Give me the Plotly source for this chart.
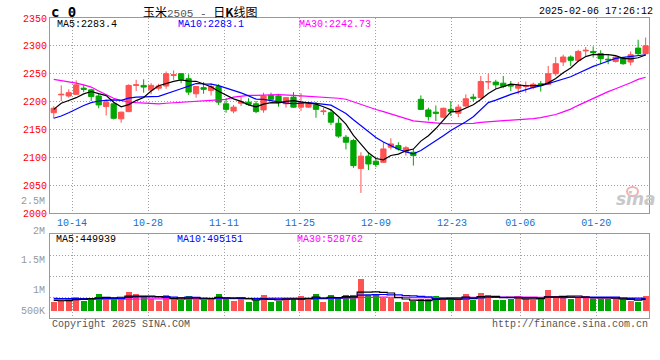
import plotly.graph_objects as go
import pandas as pd

# ---------------- data ----------------
dates = ["10-09", "10-10", "10-11", "10-14", "10-15", "10-16", "10-17", "10-18",
         "10-21", "10-22", "10-23", "10-24", "10-25", "10-28", "10-29", "10-30",
         "10-31", "11-01", "11-04", "11-05", "11-06", "11-07", "11-08", "11-11",
         "11-12", "11-13", "11-14", "11-15", "11-18", "11-19", "11-20", "11-21",
         "11-22", "11-25", "11-26", "11-27", "11-28", "11-29", "12-02", "12-03",
         "12-04", "12-05", "12-06", "12-09", "12-10", "12-11", "12-12", "12-13",
         "12-16", "12-17", "12-18", "12-19", "12-20", "12-23", "12-24", "12-25",
         "12-26", "12-27", "12-30", "12-31", "01-02", "01-03", "01-06", "01-07",
         "01-08", "01-09", "01-10", "01-13", "01-14", "01-15", "01-16", "01-17",
         "01-20", "01-21", "01-22", "01-23", "01-24", "01-27", "02-05", "02-06"]

opens = [2180, 2212, 2210, 2213, 2224, 2221, 2210, 2191, 2196, 2169,
         2182, 2229, 2229, 2221, 2224, 2228, 2247, 2250, 2241, 2214,
         2225, 2220, 2227, 2196, 2183, 2197, 2199, 2196, 2185, 2211,
         2210, 2196, 2208, 2190, 2190, 2194, 2182, 2180, 2161, 2136,
         2130, 2080, 2102, 2093, 2091, 2118, 2121, 2110, 2109, 2204,
         2185, 2181, 2172, 2186, 2179, 2192, 2208, 2207, 2235, 2235,
         2233, 2230, 2224, 2227, 2225, 2232, 2231, 2250, 2271, 2280,
         2274, 2291, 2290, 2286, 2276, 2272, 2278, 2271, 2296, 2286]
closes = [2188, 2213, 2216, 2230, 2222, 2209, 2194, 2199, 2170, 2181,
          2229, 2230, 2226, 2229, 2228, 2250, 2248, 2240, 2217, 2227,
          2222, 2227, 2199, 2186, 2190, 2200, 2195, 2182, 2210, 2204,
          2198, 2207, 2190, 2198, 2196, 2186, 2183, 2163, 2138, 2127,
          2085, 2102, 2088, 2087, 2115, 2124, 2115, 2117, 2103, 2186,
          2173, 2179, 2188, 2182, 2190, 2205, 2206, 2236, 2236, 2230,
          2227, 2228, 2229, 2228, 2231, 2230, 2250, 2268, 2280, 2274,
          2290, 2292, 2288, 2277, 2275, 2280, 2268, 2284, 2286, 2300]
highs = [2192, 2229, 2222, 2238, 2230, 2223, 2214, 2204, 2198, 2182,
         2231, 2239, 2240, 2233, 2232, 2254, 2256, 2251, 2249, 2228,
         2235, 2233, 2231, 2206, 2194, 2208, 2206, 2201, 2216, 2216,
         2214, 2208, 2217, 2215, 2198, 2199, 2189, 2186, 2170, 2140,
         2133, 2109, 2109, 2100, 2127, 2134, 2127, 2120, 2115, 2211,
         2189, 2193, 2189, 2201, 2195, 2213, 2214, 2246, 2250, 2239,
         2246, 2237, 2235, 2236, 2234, 2237, 2264, 2280, 2284, 2283,
         2293, 2298, 2299, 2292, 2284, 2283, 2280, 2290, 2311, 2315]
lows = [2170, 2201, 2207, 2213, 2217, 2201, 2188, 2175, 2168, 2162,
        2181, 2219, 2216, 2213, 2220, 2223, 2239, 2233, 2212, 2207,
        2214, 2211, 2194, 2180, 2179, 2192, 2193, 2179, 2180, 2201,
        2191, 2189, 2189, 2183, 2189, 2171, 2176, 2158, 2135, 2114,
        2081, 2036, 2077, 2082, 2090, 2114, 2112, 2103, 2085, 2185,
        2166, 2165, 2170, 2174, 2172, 2190, 2200, 2205, 2222, 2223,
        2224, 2219, 2213, 2216, 2222, 2218, 2230, 2246, 2264, 2264,
        2272, 2281, 2279, 2267, 2267, 2270, 2266, 2265, 2283, 2283]

volumes = [365200, 498900, 460400, 550100, 404800, 511300, 667900, 549600, 471800, 499200,
           746700, 668300, 550400, 459700, 393100, 628800, 460200, 432300, 589500, 471600,
           432100, 510800, 668200, 499400, 405300, 510900, 353800, 432400, 628600, 354300,
           404900, 511200, 510700, 589800, 432200, 667700, 354100, 629100, 549800, 628700,
           629300, 1257600, 628900, 629400, 511100, 510600, 353900, 354200, 405100, 459800,
           460300, 589600, 459900, 538400, 460100, 668100, 431900, 707300, 628500, 432200,
           431800, 471900, 590200, 472300, 431700, 471700, 825400, 601200, 538100, 472100,
           510900, 589700, 538200, 471800, 472400, 459800, 460200, 404700, 353700, 589600]

ma5_early = [2186, 2197, 2202, 2207]
ma10_early = [2170, 2174, 2180, 2187, 2193, 2198, 2201, 2202, 2203]
ma30_early = [2240, 2238, 2236, 2233, 2230, 2226, 2219, 2212, 2206, 2202,
              2199, 2198, 2197, 2196, 2196, 2197, 2198, 2198, 2199, 2200,
              2201, 2202, 2203, 2204, 2208, 2210, 2211, 2211, 2211]
vma5_early = [418000, 402000, 410000, 445000]
vma10_early = [497000, 492000, 488000, 492000, 484000, 480000, 487000, 493000, 496000]
vma30_early = [462000, 461000, 463000, 462000, 465000, 466000, 464000, 467000, 468000, 470000,
               468000, 472000, 471000, 474000, 476000, 475000, 478000, 481000, 480000, 484000,
               486000, 485000, 489000, 491000, 490000, 494000, 497000, 499000, 502000]

tick_dates = ["10-14", "10-28", "11-11", "11-25", "12-09", "12-23", "01-06", "01-20"]
price_ticks = [2000, 2050, 2100, 2150, 2200, 2250, 2300, 2350]
vol_labels = ["2.5M", "2M", "1.5M", "1M", "500K"]

MONO = "Liberation Mono, DejaVu Sans Mono, monospace"
title_text = ("玉米<span style='color:#555555;font-family:" + MONO + ";font-size:11px'>2505 - </span>"
              "日<b>K</b>线图")
stamp_text = "2025-02-06 17:26:12"
legend_main = ["MA5:2283.4", "MA10:2283.1", "MA30:2242.73"]
legend_vol = ["MA5:449939", "MA10:495151", "MA30:528762"]

# ---------------- derived ----------------
x = list(range(len(dates)))
cs = pd.Series(closes, dtype=float)
vs = pd.Series(volumes, dtype=float)


def ma(series, n, early):
    r = series.rolling(n).mean().tolist()
    return list(early) + r[len(early):]


ma5 = ma(cs, 5, ma5_early)
ma10 = ma(cs, 10, ma10_early)
ma30 = ma(cs, 30, ma30_early)
vma5 = ma(vs, 5, vma5_early)
vma10 = ma(vs, 10, vma10_early)
vma30 = ma(vs, 30, vma30_early)

RED = "#ff5252"
GREEN = "#00a600"
GRID = "#a0a0a0"

# figure geometry (pixels)
W, H = 660, 360
L, R, T, B = 50, 649, 18, 318


def px(v):
    return (v - L) / (R - L)


def py(v):
    return (B - v) / (B - T)


fig = go.Figure()

fig.add_trace(go.Candlestick(
    x=x, open=opens, high=highs, low=lows, close=closes,
    increasing=dict(line=dict(color=RED, width=1), fillcolor=RED),
    decreasing=dict(line=dict(color=GREEN, width=1), fillcolor=GREEN),
    whiskerwidth=0, xaxis="x", yaxis="y", showlegend=False, hoverinfo="skip"))

for vals, col in [(ma30, "#ff00ff"), (ma10, "#0000ff"), (ma5, "#000000")]:
    fig.add_trace(go.Scatter(x=x, y=vals, mode="lines", line=dict(color=col, width=1.2),
                             xaxis="x", yaxis="y", showlegend=False, hoverinfo="skip"))

bar_colors = [RED if c >= o else GREEN for o, c in zip(opens, closes)]
fig.add_trace(go.Bar(x=x, y=volumes, marker=dict(color=bar_colors, line=dict(width=0)),
                     width=0.8, xaxis="x2", yaxis="y2", showlegend=False, hoverinfo="skip"))
for vals, col in [(vma30, "#ff00ff"), (vma10, "#0000ff"), (vma5, "#000000")]:
    fig.add_trace(go.Scatter(x=x, y=vals, mode="lines", line=dict(color=col, width=1.2, shape="hvh"),
                             xaxis="x2", yaxis="y2", showlegend=False, hoverinfo="skip"))

# the source draws its date grid on a slightly wider day pitch than the candles
tickvals = [dates.index(d) * 1.0141 - 0.6 for d in tick_dates]
xr = [-0.5, 79.45]
vr = [-275000, 3026000]
vgrid = [vr[0] + (vr[1] - vr[0]) * k / 4 for k in (1, 2, 3)]

common_x = dict(range=xr, showgrid=True, gridcolor=GRID, griddash="1px,2px", gridwidth=1,
                zeroline=False, showline=True, linecolor="#999999", linewidth=1, mirror=True,
                ticks="", tickvals=tickvals, fixedrange=True)

fig.update_layout(
    width=W, height=H,
    margin=dict(l=L, r=W - R, t=T, b=H - B, pad=0),
    paper_bgcolor="white", plot_bgcolor="white",
    boxgap=0.3, boxgroupgap=0, bargap=0,
    xaxis=dict(**common_x, domain=[0, 1], anchor="y", ticktext=tick_dates,
               tickfont=dict(family=MONO, size=10, color="#1570c8"),
               rangeslider=dict(visible=False)),
    yaxis=dict(domain=[py(213), 1], range=[2000, 2350], tickvals=price_ticks,
               tickfont=dict(family=MONO, size=10, color="#ff0000"),
               showgrid=True, gridcolor=GRID, griddash="1px,2px", gridwidth=1,
               zeroline=False, showline=True, linecolor="#999999", linewidth=1,
               mirror=True, ticks="", fixedrange=True),
    xaxis2=dict(**common_x, domain=[0, 1], anchor="y2", showticklabels=False),
    yaxis2=dict(domain=[0, py(234)], range=vr, tickvals=vgrid, showticklabels=False,
                showgrid=True, gridcolor=GRID, griddash="1px,2px", gridwidth=1,
                zeroline=False, showline=True, linecolor="#999999", linewidth=1,
                mirror=True, ticks="", fixedrange=True),
)

ann = []


def text(t, xpix, ypix, xanchor="left", color="black", size=10, family=MONO, **kw):
    ann.append(dict(text=t, x=px(xpix), y=py(ypix), xref="paper", yref="paper",
                    xanchor=xanchor, yanchor="middle", showarrow=False,
                    font=dict(color=color, size=size, family=family), **kw))


# header
text("<b>c 0</b>", 49, 12, size=14, family="DejaVu Sans Mono, monospace")
text(title_text, 141, 12, size=12, family="Noto Sans CJK SC, sans-serif")
text(stamp_text, 655, 12, xanchor="right", size=10)

# legends
for t, xp, col in zip(legend_main, [55, 176, 297], ["#000000", "#0000ff", "#ff00ff"]):
    text(t, xp, 24, color=col)
for t, xp, col in zip(legend_vol, [54, 175, 295], ["#000000", "#0000ff", "#ff00ff"]):
    text(t, xp, 239, color=col)

# volume axis labels
for t, yp in zip(vol_labels, [201, 231, 260, 290, 311]):
    text(t, 46.5, yp, xanchor="right", color="#999999")

# footer
text("Copyright 2025 SINA.COM", 50, 324, color="#555555")
text("http://finance.sina.com.cn", 650, 324, xanchor="right", color="#555555")

# watermark
text("<b><i>sina</i></b>", 636, 199, xanchor="center", color="#c8c8c8", size=17,
     family="DejaVu Sans, sans-serif")

fig.update_layout(annotations=ann)
fig.add_shape(type="circle", xref="paper", yref="paper",
              x0=px(627), x1=px(638), y0=py(196), y1=py(187),
              line=dict(color="#f2b0b0", width=2), fillcolor="rgba(0,0,0,0)")

fig.write_html("out.html", include_plotlyjs=True, config=dict(displayModeBar=False),
               post_script="document.body.style.margin='0px';document.body.style.overflow='hidden';")
